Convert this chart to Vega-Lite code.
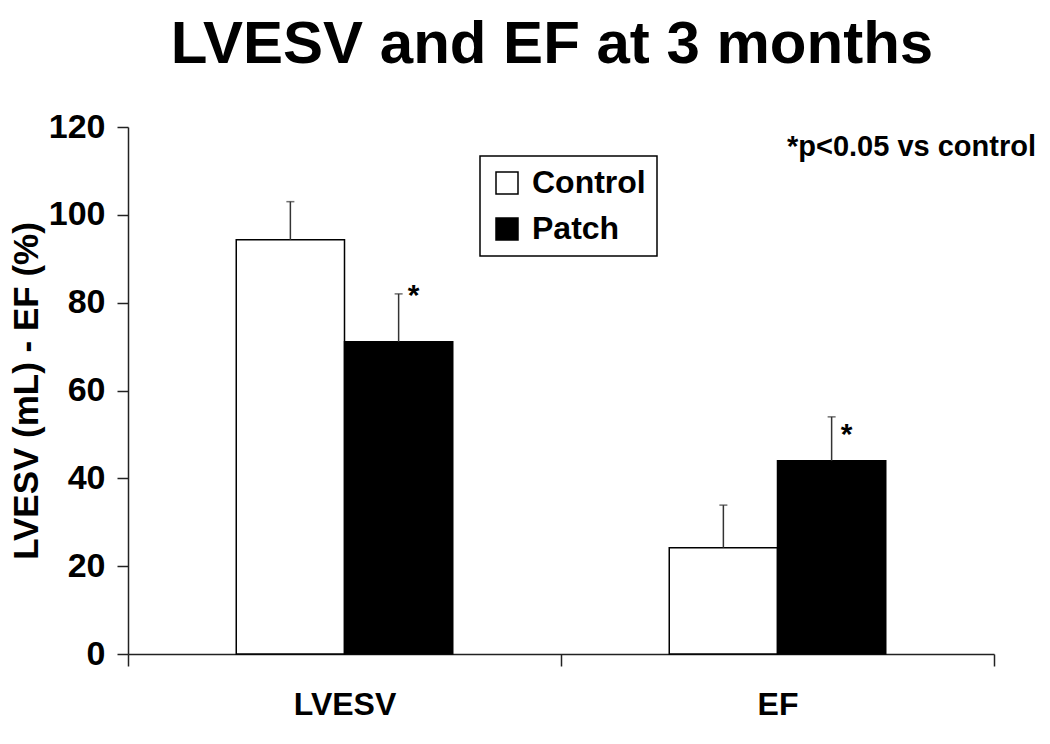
{
  "$schema": "https://vega.github.io/schema/vega-lite/v6.json",
  "autosize": "none",
  "width": 866,
  "height": 527,
  "padding": {"left": 128, "top": 127, "right": 56, "bottom": 90},
  "background": "white",
  "title": {
    "text": "LVESV and EF at 3 months",
    "font": "Liberation Sans",
    "fontSize": 60,
    "fontWeight": "bold",
    "color": "black",
    "anchor": "middle",
    "offset": 34,
    "dx": -9
  },
  "config": {
    "view": {"stroke": null},
    "font": "Liberation Sans",
    "axis": {"grid": false, "domainColor": "#222", "tickColor": "#222", "domainWidth": 1.5, "tickWidth": 1.5, "labelColor": "black", "titleColor": "black", "labelFont": "Liberation Sans", "titleFont": "Liberation Sans", "labelFontWeight": "bold", "titleFontWeight": "bold"}
  },
  "data": {
    "values": [
      {"measure": "LVESV", "group": "Control", "value": 94.3, "upper": 103},
      {"measure": "LVESV", "group": "Patch", "value": 71.1, "upper": 82, "star": 83.3, "sig": "*"},
      {"measure": "EF", "group": "Control", "value": 24.2, "upper": 33.9},
      {"measure": "EF", "group": "Patch", "value": 44, "upper": 54, "star": 51.7, "sig": "*"}
    ]
  },
  "encoding": {
    "x": {
      "field": "measure",
      "type": "nominal",
      "scale": {"domain": ["LVESV", "EF"], "paddingInner": 0, "paddingOuter": 0},
      "axis": {"title": null, "labelAngle": 0, "labelFontSize": 32, "labelPadding": 23, "tickSize": 12, "tickBand": "extent"}
    },
    "xOffset": {
      "field": "group",
      "type": "nominal",
      "scale": {"domain": ["Control", "Patch"], "paddingInner": 0, "paddingOuter": 1}
    }
  },
  "layer": [
    {
      "mark": {"type": "bar", "stroke": "black", "strokeWidth": 1.5},
      "encoding": {
        "y": {
          "field": "value",
          "type": "quantitative",
          "scale": {"domain": [0, 120], "nice": false},
          "axis": {"title": "LVESV (mL) - EF (%)", "values": [0, 20, 40, 60, 80, 100, 120], "labelFontSize": 34, "labelPadding": 12, "tickSize": 11, "titleFontSize": 35, "titlePadding": 4}
        },
        "fill": {
          "field": "group",
          "type": "nominal",
          "scale": {"domain": ["Control", "Patch"], "range": ["white", "black"]},
          "legend": {
            "title": null,
            "orient": "none",
            "legendX": 352,
            "legendY": 29,
            "direction": "vertical",
            "strokeColor": "black",
            "padding": 11,
            "symbolType": "square",
            "symbolSize": 484,
            "symbolStrokeColor": "black",
            "symbolStrokeWidth": 1.5,
            "labelFontSize": 32,
            "labelFontWeight": "bold",
            "labelFont": "Liberation Sans",
            "labelColor": "black",
            "labelOffset": 9,
            "rowPadding": 14,
            "encode": {"legend": {"update": {"strokeWidth": {"value": 1.5}}}}
          }
        }
      }
    },
    {
      "mark": {"type": "rule", "color": "#333", "strokeWidth": 1.5},
      "encoding": {
        "y": {"field": "value", "type": "quantitative"},
        "y2": {"field": "upper"}
      }
    },
    {
      "mark": {"type": "tick", "orient": "horizontal", "color": "#333", "thickness": 1.5, "size": 8},
      "encoding": {
        "y": {"field": "upper", "type": "quantitative"}
      }
    },
    {
      "transform": [{"filter": "datum.sig"}],
      "mark": {"type": "text", "fontSize": 30, "fontWeight": "bold", "baseline": "alphabetic", "dy": 17, "dx": 15, "color": "black"},
      "encoding": {
        "y": {"field": "star", "type": "quantitative"},
        "text": {"field": "sig"}
      }
    },
    {
      "data": {"values": [{"note": "*p<0.05 vs control", "pos": 115.4, "cat": "EF"}]},
      "mark": {"type": "text", "fontSize": 29, "fontWeight": "bold", "baseline": "middle", "align": "center", "dx": 134, "color": "black"},
      "encoding": {
        "x": {"field": "cat", "type": "nominal"},
        "xOffset": null,
        "y": {"field": "pos", "type": "quantitative"},
        "text": {"field": "note"}
      }
    }
  ]
}
